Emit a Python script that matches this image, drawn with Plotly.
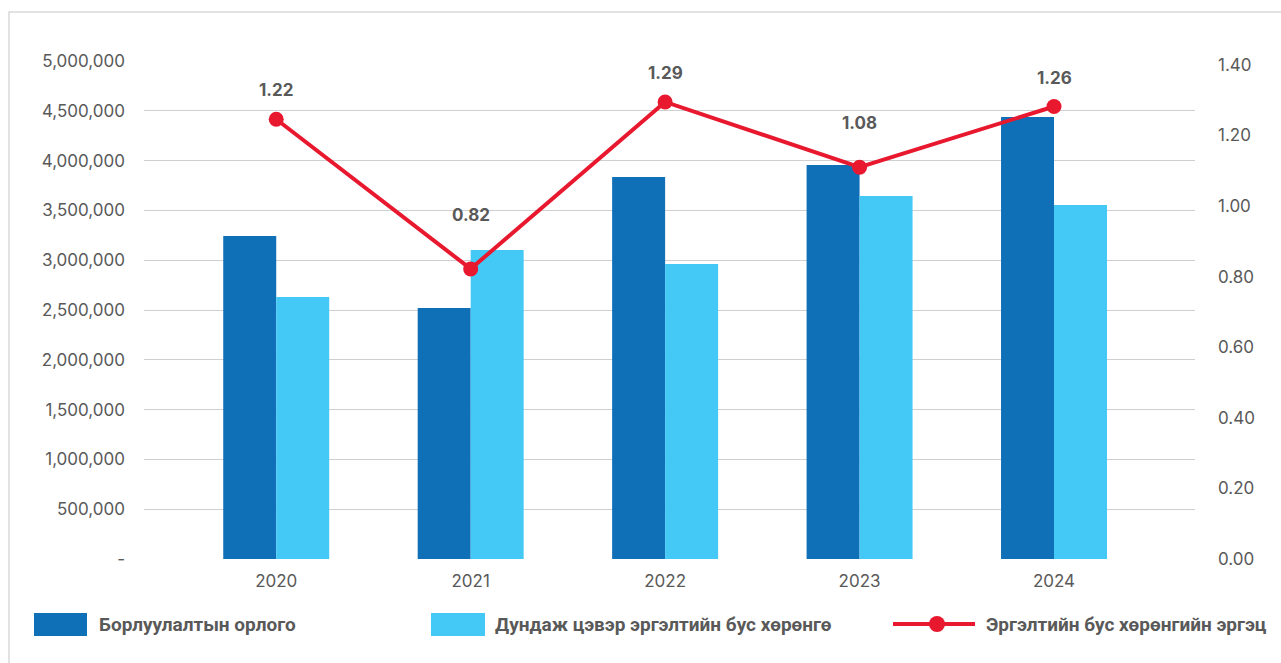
"""Combo chart: sales revenue vs average net non-current assets, with turnover ratio line."""
import plotly.graph_objects as go

# data
years = ['2020', '2021', '2022', '2023', '2024']
revenue = [3243000, 2520000, 3835000, 3956000, 4438000]
avg_assets = [2630000, 3102000, 2962000, 3645000, 3554000]
turnover = [1.246, 0.822, 1.295, 1.110, 1.282]
turnover_labels = ['1.22', '0.82', '1.29', '1.08', '1.26']

left_ticks = [0, 500000, 1000000, 1500000, 2000000, 2500000,
              3000000, 3500000, 4000000, 4500000, 5000000]
left_ticktext = ['-'] + ['{:,}'.format(v) for v in left_ticks[1:]]
right_ticks = [0, 0.2, 0.4, 0.6, 0.8, 1.0, 1.2, 1.4]

names = ['Борлуулалтын орлого',
         'Дундаж цэвэр эргэлтийн бус хөрөнгө',
         'Эргэлтийн бус хөрөнгийн эргэц']

DARK = '#0F6FB7'
LIGHT = '#44C8F5'
RED = '#E8192F'
GREY = '#595959'
FONT = 'Inter, Roboto, sans-serif'

W, H = 1281, 663
L, R, T, B = 144, 86, 61, 104


def px(xp):
    return (xp - L) / (W - L - R)


def py(yp):
    return (H - B - yp) / (H - T - B)


# bars + line
data = [
    go.Bar(x=years, y=revenue, name=names[0], marker=dict(color=DARK, line_width=0)),
    go.Bar(x=years, y=avg_assets, name=names[1], marker=dict(color=LIGHT, line_width=0)),
    go.Scatter(x=years, y=turnover, name=names[2], yaxis='y2', mode='lines+markers',
               line=dict(color=RED, width=4), marker=dict(color=RED, size=15)),
]

# data labels above the line points (category index used for x)
label_shift = [29, 54, 29, 44, 29]
annotations = [
    dict(x=i, y=y, xref='x', yref='y2', text=t, showarrow=False, yshift=s,
         font=dict(family=FONT, size=17, color=GREY, weight='bold'))
    for i, (y, t, s) in enumerate(zip(turnover, turnover_labels, label_shift))
]

# hand-built legend along the bottom
shapes = [
    dict(type='rect', xref='paper', yref='paper', x0=px(9), x1=px(1300), y0=py(12), y1=py(680),
         line=dict(color='#D9D9D9', width=1.5), fillcolor='rgba(0,0,0,0)'),
    dict(type='rect', xref='paper', yref='paper', x0=px(34), x1=px(87), y0=py(613), y1=py(636),
         fillcolor=DARK, line_width=0),
    dict(type='rect', xref='paper', yref='paper', x0=px(431), x1=px(485), y0=py(613), y1=py(636),
         fillcolor=LIGHT, line_width=0),
    dict(type='line', xref='paper', yref='paper', x0=px(893), x1=px(975), y0=py(624), y1=py(624),
         line=dict(color=RED, width=4)),
    dict(type='circle', xref='paper', yref='paper', x0=px(929), x1=px(945), y0=py(616), y1=py(632),
         fillcolor=RED, line_width=0),
]
for xpos, name in zip([97, 493, 984], names):
    annotations.append(dict(x=px(xpos), y=py(624), xref='paper', yref='paper', text=name,
                            showarrow=False, xanchor='left', yanchor='middle',
                            font=dict(family='Roboto, sans-serif', size=19, color=GREY,
                                      weight='bold')))

layout = go.Layout(
    width=W, height=H,
    margin=dict(l=L, r=R, t=T, b=B, pad=0),
    paper_bgcolor='white', plot_bgcolor='white',
    barmode='group', bargap=0.455, bargroupgap=0,
    showlegend=False,
    font=dict(family=FONT, size=17, color=GREY),
    xaxis=dict(type='category', range=[-0.68, 4.725], showgrid=False, showline=False,
               ticks='', tickfont=dict(size=17, color=GREY), ticklabelstandoff=10),
    yaxis=dict(range=[0, 5000000], tickvals=left_ticks, ticktext=left_ticktext,
               showgrid=True, gridcolor='#CFCFCF', gridwidth=1.2, zeroline=False,
               showline=False, ticks='', tickfont=dict(size=17, color=GREY),
               ticklabelstandoff=18),
    yaxis2=dict(range=[0, 1.411], overlaying='y', side='right', tickvals=right_ticks,
                tickformat='.2f', showgrid=False, zeroline=False, showline=False, ticks='',
                tickfont=dict(size=17, color=GREY), ticklabelstandoff=22),
    annotations=annotations,
    shapes=shapes,
)

fig = go.Figure(data=data, layout=layout)
# drop the page's default body margin so the figure sits at the window origin
fig.write_html('out.html', config={'displayModeBar': False},
               post_script="document.body.style.margin='0px';")
